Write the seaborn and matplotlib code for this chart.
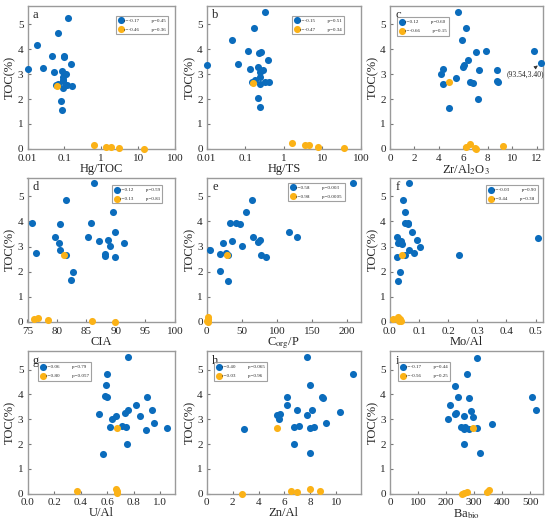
import numpy as np
import pandas as pd
import matplotlib
matplotlib.use("Agg")
import matplotlib.pyplot as plt
import seaborn as sns

# ==========================================================
# DATA
# ==========================================================

# a : Hg/TOC
a_blue_x = [0.01, 0.0176, 0.026, 0.046, 0.051, 0.068, 0.126, 0.095, 0.10, 0.15, 0.088, 0.098,
            0.11, 0.09, 0.09, 0.09, 0.058, 0.068, 0.094, 0.12, 0.16, 0.081, 0.088]
a_blue_y = [3.21, 4.18, 3.25, 3.75, 3.08, 4.64, 5.25, 3.71, 3.74, 3.42, 3.14, 3.02,
            3.01, 2.89, 2.78, 2.72, 2.55, 2.61, 2.45, 2.56, 2.53, 1.92, 1.55]
a_orange_x = [0.065, 0.63, 1.34, 1.79, 2.95, 14.8]
a_orange_y = [2.52, 0.16, 0.09, 0.09, 0.02, 0.01]

# b : Hg/TS
b_blue_x = [0.01, 0.046, 0.066, 0.118, 0.13, 0.17, 0.33, 0.23, 0.26, 0.38, 0.22, 0.24,
            0.28, 0.24, 0.18, 0.15, 0.24, 0.32, 0.42, 0.21, 0.24]
b_blue_y = [3.37, 4.37, 3.41, 3.92, 3.21, 4.84, 5.48, 3.86, 3.90, 3.59, 3.27, 3.10,
            3.15, 2.88, 2.77, 2.68, 2.60, 2.70, 2.67, 2.03, 1.67]
b_orange_x = [0.16, 1.64, 3.5, 4.6, 7.8, 37]
b_orange_y = [2.66, 0.23, 0.15, 0.15, 0.08, 0.05]

# c : Zr/Al2O3
c_blue_x = [5.58, 6.25, 5.90, 4.21, 4.37, 5.44, 4.37, 4.83, 6.03, 5.96, 6.38, 7.00,
            7.83, 7.29, 6.57, 6.81, 7.18, 8.74, 8.74, 8.85, 11.8, 12.36]
c_blue_y = [5.49, 4.84, 4.38, 3.02, 3.21, 2.86, 2.59, 1.65, 3.35, 3.27, 3.58, 3.89,
            3.92, 3.15, 2.70, 2.65, 2.01, 3.17, 2.74, 2.67, 3.93, 3.45]
c_orange_x = [4.85, 6.25, 6.57, 6.92, 7.02, 9.22]
c_orange_y = [2.69, 0.09, 0.19, 0.04, 0.01, 0.12]

# d : CIA
d_blue_x = [75.7, 76.4, 81.5, 80.5, 79.7, 80.4, 80.5, 81.5, 82.7, 82.3, 86.2, 85.7,
            85.2, 87.2, 88.7, 89.5, 89.8, 89.0, 88.1, 88.1, 89.8, 91.3]
d_blue_y = [3.94, 2.73, 4.85, 3.90, 3.40, 3.15, 2.85, 2.67, 1.99, 1.65, 5.52, 3.92,
            3.38, 3.23, 3.27, 4.39, 3.59, 3.02, 2.69, 2.63, 2.58, 3.16]
d_orange_x = [81.2, 76.1, 76.7, 78.5, 85.9, 89.9]
d_orange_y = [2.67, 0.09, 0.16, 0.08, 0.03, 0.0]

# e : Corg/P
e_blue_x = [209, 4.7, 19.4, 18.9, 23.6, 27.4, 30.7, 29.8, 33.1, 35.5, 41, 47.3,
            49.6, 55.8, 65.2, 65.7, 72.8, 75.6, 77, 85.1, 117, 128.6]
e_blue_y = [5.52, 2.86, 2.69, 2.01, 3.16, 2.74, 2.65, 1.64, 3.92, 3.23, 3.94, 3.90,
            3.02, 4.39, 4.87, 3.40, 3.18, 3.28, 2.67, 2.59, 3.59, 3.38]
e_orange_x = [29.3, 2.4, 1.4, 0.9, 1.2, 1.8]
e_orange_y = [2.67, 0.17, 0.09, 0.04, 0.0, 0.12]

# f : Mo/Al
f_blue_x = [0.066, 0.046, 0.051, 0.053, 0.062, 0.063, 0.077, 0.024, 0.027, 0.035, 0.037,
            0.040, 0.093, 0.102, 0.066, 0.082, 0.051, 0.023, 0.034, 0.027, 0.237, 0.508]
f_blue_y = [5.52, 4.87, 4.39, 3.92, 3.93, 3.88, 3.59, 3.40, 3.16, 3.20, 3.24,
            3.12, 3.27, 3.00, 2.86, 2.73, 2.67, 2.59, 2.00, 1.64, 2.66, 3.36]
f_orange_x = [0.040, 0.009, 0.029, 0.032, 0.038, 0.035]
f_orange_y = [2.67, 0.11, 0.17, 0.04, 0.04, 0.10]

# g : U/Al
g_blue_x = [0.758, 0.595, 0.59, 0.584, 0.602, 0.541, 0.666, 0.635, 0.624, 0.711, 0.744,
            0.734, 0.758, 0.816, 0.849, 0.899, 0.936, 0.892, 0.955, 1.054, 0.748, 0.567]
g_blue_y = [5.51, 4.84, 4.39, 3.93, 3.88, 3.21, 3.15, 3.01, 2.67, 2.71, 2.67,
            3.27, 3.37, 3.57, 3.15, 3.91, 3.36, 2.57, 2.83, 2.64, 2.00, 1.61]
g_orange_x = [0.675, 0.369, 0.664, 0.675, 0.675]
g_orange_y = [2.64, 0.11, 0.19, 0.11, 0.04]

# h : Zn/Al
h_blue_x = [2.85, 7.74, 7.95, 11.33, 6.18, 6.18, 5.44, 5.69, 5.59, 6.99, 7.72,
            8.15, 8.87, 8.95, 10.28, 9.23, 6.77, 7.10, 7.97, 8.28, 6.77, 8.00]
h_blue_y = [2.59, 5.50, 4.38, 4.84, 3.91, 3.59, 3.16, 3.22, 3.01, 3.38, 3.16,
            3.37, 3.91, 3.86, 3.28, 2.84, 2.67, 2.72, 2.65, 2.67, 2.00, 1.64]
h_orange_x = [5.44, 2.69, 6.49, 6.95, 7.97, 8.72]
h_orange_y = [2.65, 0.0, 0.12, 0.05, 0.20, 0.12]

# i : Ba_bio
i_blue_x = [309, 275, 233, 243, 280, 213, 208, 233, 235, 289, 297, 264,
            253, 264, 269, 280, 310, 363, 265, 320, 506, 521]
i_blue_y = [5.49, 4.83, 4.36, 3.90, 3.86, 3.56, 2.99, 3.23, 3.26, 3.35, 3.11, 3.15,
            2.70, 2.62, 2.67, 2.62, 2.66, 2.82, 1.99, 1.62, 3.90, 3.36]
i_orange_x = [296, 258, 263, 276, 345, 353]
i_orange_y = [2.63, 0.0, 0.04, 0.08, 0.08, 0.16]

# panel texts
panel_letters = ["a", "b", "c", "d", "e", "f", "g", "h", "i"]
x_labels = ["Hg/TOC", "Hg/TS", r"Zr/Al$_2$O$_3$", "CIA", r"C$_{\rm org}$/P",
            "Mo/Al", "U/Al", "Zn/Al", r"Ba$_{\rm bio}$"]
blue_stats = [("r=-0.17", "p=0.45"), ("r=-0.15", "p=0.51"), ("r=0.12", "p=0.60"),
              ("r=0.12", "p=0.59"), ("r=0.58", "p=0.003"), ("r=-0.03", "p=0.90"),
              ("r=0.06", "p=0.79"), ("r=0.40", "p=0.065"), ("r=-0.17", "p=0.44")]
orange_stats = [("r=-0.46", "p=0.36"), ("r=-0.47", "p=0.34"), ("r=-0.66", "p=0.15"),
                ("r=0.13", "p=0.81"), ("r=0.98", "p=0.0005"), ("r=0.44", "p=0.38"),
                ("r=0.80", "p=0.057"), ("r=0.03", "p=0.96"), ("r=-0.56", "p=0.25")]

# ==========================================================
# STYLE
# ==========================================================

sns.set_style("ticks")
plt.rcParams["font.family"] = ["Liberation Serif", "DejaVu Serif"]
plt.rcParams["mathtext.fontset"] = "stix"
plt.rcParams["axes.edgecolor"] = "#9a9a9a"
plt.rcParams["axes.linewidth"] = 1.0

BLUE = "#0b6cbc"
ORANGE = "#fbb217"

blue_sets = [(a_blue_x, a_blue_y), (b_blue_x, b_blue_y), (c_blue_x, c_blue_y),
             (d_blue_x, d_blue_y), (e_blue_x, e_blue_y), (f_blue_x, f_blue_y),
             (g_blue_x, g_blue_y), (h_blue_x, h_blue_y), (i_blue_x, i_blue_y)]
orange_sets = [(a_orange_x, a_orange_y), (b_orange_x, b_orange_y), (c_orange_x, c_orange_y),
               (d_orange_x, d_orange_y), (e_orange_x, e_orange_y), (f_orange_x, f_orange_y),
               (g_orange_x, g_orange_y), (h_orange_x, h_orange_y), (i_orange_x, i_orange_y)]

x_limits = [(0.01, 100), (0.01, 100), (0, 12.5), (75, 100), (0, 220),
            (0, 0.525), (0, 1.11), (0, 11.9), (0, 545)]
x_ticks = [[0.01, 0.1, 1, 10, 100], [0.01, 0.1, 1, 10, 100], [0, 2, 4, 6, 8, 10, 12],
           [75, 80, 85, 90, 95, 100], [0, 50, 100, 150, 200],
           [0, 0.1, 0.2, 0.3, 0.4, 0.5], [0, 0.2, 0.4, 0.6, 0.8, 1.0],
           [0, 2, 4, 6, 8, 10], [0, 100, 200, 300, 400, 500]]
x_ticklabels = [["0.01", "0.1", "1", "10", "100"], ["0.01", "0.1", "1", "10", "100"],
                None, None, None,
                ["0.0", "0.1", "0.2", "0.3", "0.4", "0.5"],
                ["0.0", "0.2", "0.4", "0.6", "0.8", "1.0"], None, None]
log_axes = [True, True, False, False, False, False, False, False, False]
legend_anchor = [(0.60, 0.93), (0.55, 0.93), (0.045, 0.92), (0.57, 0.95), (0.53, 0.965),
                 (0.625, 0.95), (0.07, 0.92), (0.045, 0.92), (0.05, 0.92)]

# axes boxes in figure fractions
col_left = [0.050, 0.376, 0.709]
col_width = [0.268, 0.280, 0.278]
row_bottom = [0.716, 0.386, 0.058]
row_height = [0.273, 0.275, 0.272]

# ==========================================================
# PLOT
# ==========================================================

fig = plt.figure(figsize=(5.5, 5.24), dpi=100)

for k in range(9):
    r, c = divmod(k, 3)
    ax = fig.add_axes([col_left[c], row_bottom[r], col_width[c], row_height[r]])

    bx, by = blue_sets[k]
    ox, oy = orange_sets[k]
    sns.scatterplot(x=bx, y=by, ax=ax, color=BLUE, s=26, linewidth=0,
                    label=f"{blue_stats[k][0]}          {blue_stats[k][1]}",
                    clip_on=False, zorder=3)
    sns.scatterplot(x=ox, y=oy, ax=ax, color=ORANGE, s=26, linewidth=0,
                    label=f"{orange_stats[k][0]}          {orange_stats[k][1]}",
                    clip_on=False, zorder=4)

    if log_axes[k]:
        ax.set_xscale("log")
        ax.minorticks_off()
    ax.set_xlim(*x_limits[k])
    ax.set_ylim(0, 5.75)
    ax.set_xticks(x_ticks[k])
    if x_ticklabels[k] is not None:
        ax.set_xticklabels(x_ticklabels[k])
    ax.set_yticks([0, 1, 2, 3, 4, 5])
    ax.tick_params(direction="in", length=2.5, labelsize=8, color="#777777")
    ax.tick_params(axis="x", pad=3.5)
    ax.tick_params(axis="y", pad=3)

    ax.set_xlabel(x_labels[k], fontsize=9, labelpad=0)
    ax.set_ylabel("TOC(%)", fontsize=9, labelpad=1)

    ax.text(0.035, 0.975, panel_letters[k], transform=ax.transAxes,
            fontsize=9, ha="left", va="top")

    leg = ax.legend(loc="upper left", bbox_to_anchor=legend_anchor[k],
                    fontsize=3.6, frameon=True, fancybox=False,
                    handletextpad=0.1, borderpad=0.5, labelspacing=0.9,
                    markerscale=1.0, handlelength=1.0, borderaxespad=0)
    leg.get_frame().set_edgecolor("#8a8a8a")
    leg.get_frame().set_linewidth(0.8)

    if k == 2:
        ax.annotate("(93.54,3.40)", xy=(12.36, 3.45), xytext=(11.1, 2.98),
                    fontsize=5.5, ha="center", va="center",
                    arrowprops=dict(arrowstyle="-|>", color="#333333", lw=0.6,
                                    mutation_scale=5, shrinkA=1, shrinkB=3))

fig.savefig("out.png", dpi=100)
